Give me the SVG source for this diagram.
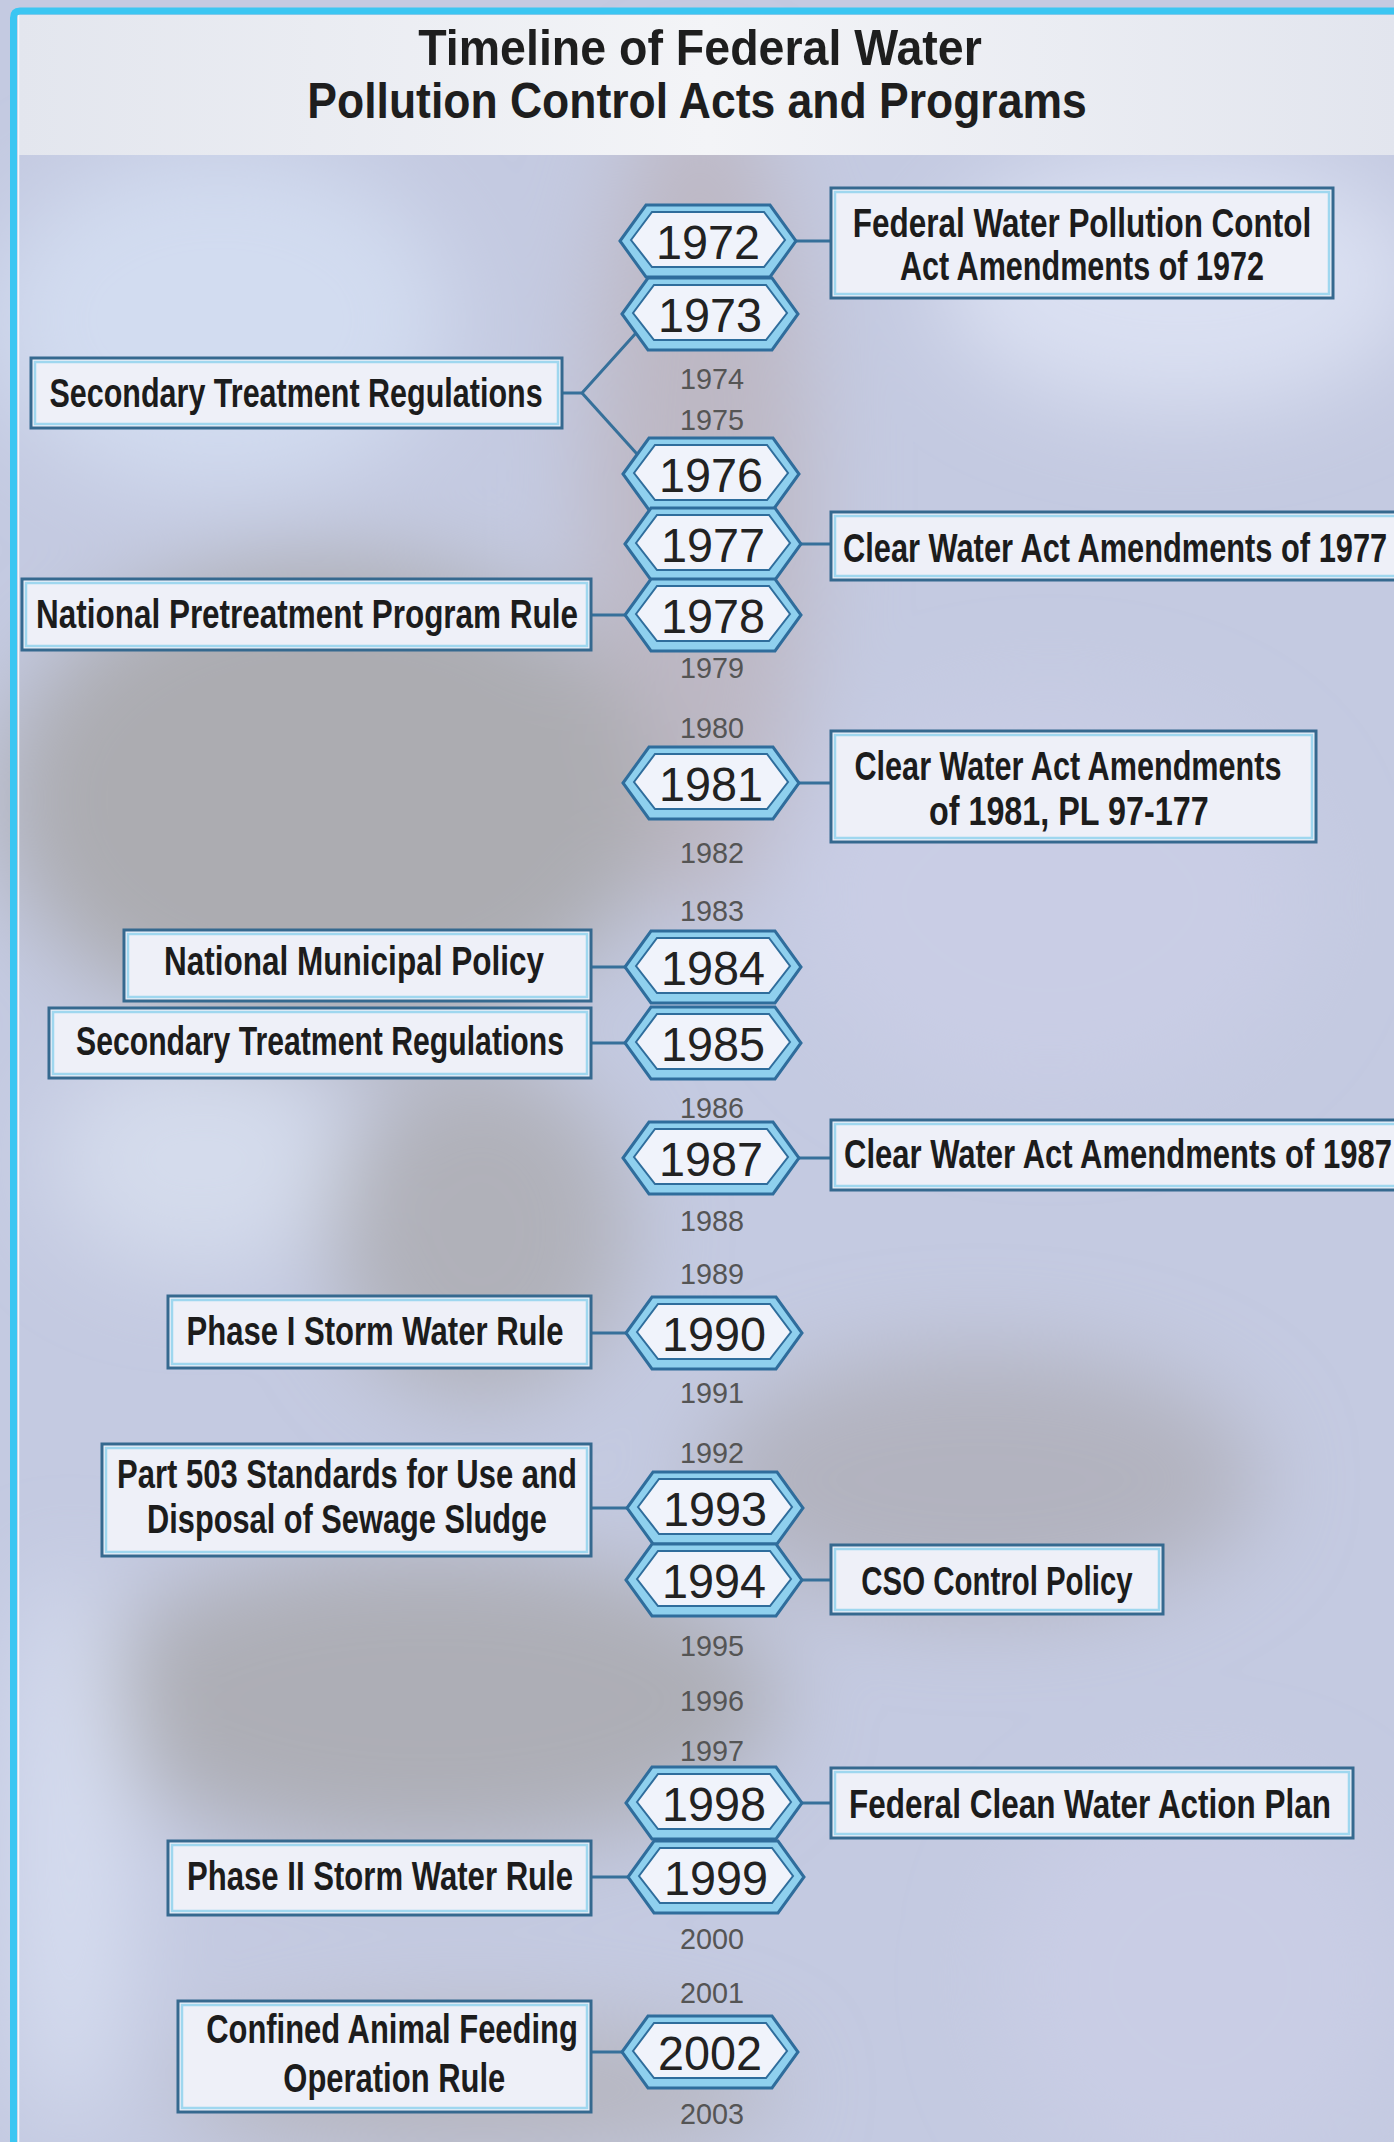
<svg xmlns="http://www.w3.org/2000/svg" width="1394" height="2142" viewBox="0 0 1394 2142">
<defs>
<style>
.boxo{fill:#eef0f8;stroke:#35698f;stroke-width:3}
.boxi{fill:none;stroke:#9fd7ef;stroke-width:2.5}
.lbl{font-family:"Liberation Sans",Arial,sans-serif;font-weight:bold;font-size:40px;fill:#1c1c1c;text-anchor:middle}
.lbls{font-family:"Liberation Sans",Arial,sans-serif;font-weight:bold;font-size:40px;fill:#1c1c1c;text-anchor:start}
.yr{font-family:"Liberation Sans",Arial,sans-serif;font-size:48px;fill:#222;text-anchor:middle}
.sy{font-family:"Liberation Sans",Arial,sans-serif;font-size:30px;fill:#555;text-anchor:middle}
.ttl{font-family:"Liberation Sans",Arial,sans-serif;font-weight:bold;font-size:50px;fill:#1e1e1e;text-anchor:middle}
.conn{stroke:#36709a;stroke-width:3;fill:none}
</style>
<filter id="blur" x="-50%" y="-50%" width="200%" height="200%"><feGaussianBlur stdDeviation="45"/></filter>
<linearGradient id="tband" x1="0" y1="0" x2="1" y2="0">
<stop offset="0" stop-color="#e3e6ee"/><stop offset="0.5" stop-color="#f3f4f7"/><stop offset="1" stop-color="#e2e5ee"/>
</linearGradient>
<g id="hex">
<polygon points="-88,0 -62,-36 62,-36 88,0 62,36 -62,36" fill="#8fd0ee" stroke="#2f6d9c" stroke-width="3"/>
<polygon points="-77,-1 -56,-29 56,-29 77,-1 56,26 -56,26" fill="#f0f3fb" stroke="#2f6d9c" stroke-width="2"/>
</g>
</defs>

<g id="background">
<rect x="0" y="0" width="1394" height="2142" fill="#c4cae1"/>
<g filter="url(#blur)">
<ellipse cx="220" cy="320" rx="230" ry="170" fill="#d2dcf0"/>
<ellipse cx="700" cy="500" rx="110" ry="420" fill="#bdb8c4"/>
<ellipse cx="330" cy="800" rx="330" ry="240" fill="#acacb1"/>
<ellipse cx="1180" cy="280" rx="240" ry="130" fill="#dae0f2"/>
<ellipse cx="1050" cy="900" rx="260" ry="200" fill="#c9cde5"/>
<ellipse cx="200" cy="1160" rx="150" ry="110" fill="#d4dbec"/>
<ellipse cx="480" cy="1230" rx="150" ry="170" fill="#b0b1b9"/>
<ellipse cx="980" cy="1480" rx="280" ry="130" fill="#b2b3bf"/>
<ellipse cx="430" cy="1700" rx="350" ry="150" fill="#adaeb6"/>
<ellipse cx="70" cy="1850" rx="60" ry="280" fill="#d6ddf0"/>
<ellipse cx="1200" cy="1980" rx="200" ry="200" fill="#c9cde5"/>
<ellipse cx="480" cy="2090" rx="300" ry="70" fill="#b6b6c0"/>
</g>
</g>

<g id="frame">
<rect x="18" y="15" width="1380" height="140" fill="url(#tband)"/>
<path d="M13.5,2142 V18 Q13.5,11 20,11 H1394" fill="none" stroke="#3bc6f2" stroke-width="7"/>
<line x1="18.5" y1="15" x2="18.5" y2="2142" stroke="#f4f8fc" stroke-width="1.5"/>
</g>

<g id="title">
<g transform="translate(700 0) scale(0.93 1)"><text class="ttl" x="0" y="65" textLength="606" lengthAdjust="spacingAndGlyphs">Timeline of Federal Water</text></g>
<g transform="translate(697 0) scale(0.93 1)"><text class="ttl" x="0" y="118" textLength="838" lengthAdjust="spacingAndGlyphs">Pollution Control Acts and Programs</text></g>
</g>

<g id="connectors">
<line class="conn" x1="796" y1="241" x2="831" y2="241"/>
<polyline class="conn" points="562,393 582,393 636,333"/>
<line class="conn" x1="582" y1="393" x2="637" y2="454"/>
<line class="conn" x1="800" y1="544" x2="831" y2="544"/>
<line class="conn" x1="591" y1="615" x2="626" y2="615"/>
<line class="conn" x1="798" y1="783" x2="831" y2="783"/>
<line class="conn" x1="591" y1="967" x2="626" y2="967"/>
<line class="conn" x1="591" y1="1043" x2="626" y2="1043"/>
<line class="conn" x1="798" y1="1158" x2="831" y2="1158"/>
<line class="conn" x1="591" y1="1333" x2="627" y2="1333"/>
<line class="conn" x1="591" y1="1508" x2="628" y2="1508"/>
<line class="conn" x1="801" y1="1580" x2="831" y2="1580"/>
<line class="conn" x1="801" y1="1803" x2="831" y2="1803"/>
<line class="conn" x1="591" y1="1877" x2="629" y2="1877"/>
<line class="conn" x1="591" y1="2052" x2="623" y2="2052"/>
</g>

<g id="minor-years">
<text class="sy" x="712" y="389" textLength="64" lengthAdjust="spacingAndGlyphs">1974</text>
<text class="sy" x="712" y="430" textLength="64" lengthAdjust="spacingAndGlyphs">1975</text>
<text class="sy" x="712" y="678" textLength="64" lengthAdjust="spacingAndGlyphs">1979</text>
<text class="sy" x="712" y="738" textLength="64" lengthAdjust="spacingAndGlyphs">1980</text>
<text class="sy" x="712" y="863" textLength="64" lengthAdjust="spacingAndGlyphs">1982</text>
<text class="sy" x="712" y="921" textLength="64" lengthAdjust="spacingAndGlyphs">1983</text>
<text class="sy" x="712" y="1118" textLength="64" lengthAdjust="spacingAndGlyphs">1986</text>
<text class="sy" x="712" y="1231" textLength="64" lengthAdjust="spacingAndGlyphs">1988</text>
<text class="sy" x="712" y="1284" textLength="64" lengthAdjust="spacingAndGlyphs">1989</text>
<text class="sy" x="712" y="1403" textLength="64" lengthAdjust="spacingAndGlyphs">1991</text>
<text class="sy" x="712" y="1463" textLength="64" lengthAdjust="spacingAndGlyphs">1992</text>
<text class="sy" x="712" y="1656" textLength="64" lengthAdjust="spacingAndGlyphs">1995</text>
<text class="sy" x="712" y="1711" textLength="64" lengthAdjust="spacingAndGlyphs">1996</text>
<text class="sy" x="712" y="1761" textLength="64" lengthAdjust="spacingAndGlyphs">1997</text>
<text class="sy" x="712" y="1949" textLength="64" lengthAdjust="spacingAndGlyphs">2000</text>
<text class="sy" x="712" y="2003" textLength="64" lengthAdjust="spacingAndGlyphs">2001</text>
<text class="sy" x="712" y="2124" textLength="64" lengthAdjust="spacingAndGlyphs">2003</text>
</g>

<g id="y1972"><use href="#hex" x="708" y="241"/><text class="yr" x="708" y="259" textLength="104" lengthAdjust="spacingAndGlyphs">1972</text></g>
<g id="y1973"><use href="#hex" x="710" y="314"/><text class="yr" x="710" y="332" textLength="104" lengthAdjust="spacingAndGlyphs">1973</text></g>
<g id="y1976"><use href="#hex" x="711" y="474"/><text class="yr" x="711" y="492" textLength="104" lengthAdjust="spacingAndGlyphs">1976</text></g>
<g id="y1977"><use href="#hex" x="713" y="544"/><text class="yr" x="713" y="562" textLength="104" lengthAdjust="spacingAndGlyphs">1977</text></g>
<g id="y1978"><use href="#hex" x="713" y="615"/><text class="yr" x="713" y="633" textLength="104" lengthAdjust="spacingAndGlyphs">1978</text></g>
<g id="y1981"><use href="#hex" x="711" y="783"/><text class="yr" x="711" y="801" textLength="104" lengthAdjust="spacingAndGlyphs">1981</text></g>
<g id="y1984"><use href="#hex" x="713" y="967"/><text class="yr" x="713" y="985" textLength="104" lengthAdjust="spacingAndGlyphs">1984</text></g>
<g id="y1985"><use href="#hex" x="713" y="1043"/><text class="yr" x="713" y="1061" textLength="104" lengthAdjust="spacingAndGlyphs">1985</text></g>
<g id="y1987"><use href="#hex" x="711" y="1158"/><text class="yr" x="711" y="1176" textLength="104" lengthAdjust="spacingAndGlyphs">1987</text></g>
<g id="y1990"><use href="#hex" x="714" y="1333"/><text class="yr" x="714" y="1351" textLength="104" lengthAdjust="spacingAndGlyphs">1990</text></g>
<g id="y1993"><use href="#hex" x="715" y="1508"/><text class="yr" x="715" y="1526" textLength="104" lengthAdjust="spacingAndGlyphs">1993</text></g>
<g id="y1994"><use href="#hex" x="714" y="1580"/><text class="yr" x="714" y="1598" textLength="104" lengthAdjust="spacingAndGlyphs">1994</text></g>
<g id="y1998"><use href="#hex" x="714" y="1803"/><text class="yr" x="714" y="1821" textLength="104" lengthAdjust="spacingAndGlyphs">1998</text></g>
<g id="y1999"><use href="#hex" x="716" y="1877"/><text class="yr" x="716" y="1895" textLength="104" lengthAdjust="spacingAndGlyphs">1999</text></g>
<g id="y2002"><use href="#hex" x="710" y="2052"/><text class="yr" x="710" y="2070" textLength="104" lengthAdjust="spacingAndGlyphs">2002</text></g>

<g id="box-fwpca1972">
<rect class="boxo" x="831" y="188" width="502" height="110"/><rect class="boxi" x="835" y="192" width="494" height="102"/>
<g transform="translate(1082 0) scale(0.76 1)">
<text class="lbl" x="0" y="237" textLength="603" lengthAdjust="spacingAndGlyphs">Federal Water Pollution Contol</text>
<text class="lbl" x="0" y="280" textLength="479" lengthAdjust="spacingAndGlyphs">Act Amendments of 1972</text>
</g>
</g>
<g id="box-str1973">
<rect class="boxo" x="31" y="358" width="531" height="70"/><rect class="boxi" x="35" y="362" width="523" height="62"/>
<g transform="translate(296 0) scale(0.76 1)"><text class="lbl" x="0" y="407" textLength="649" lengthAdjust="spacingAndGlyphs">Secondary Treatment Regulations</text></g>
</g>
<g id="box-cwa1977">
<rect class="boxo" x="831" y="512" width="600" height="68"/><rect class="boxi" x="835" y="516" width="592" height="60"/>
<g transform="translate(843 0) scale(0.76 1)"><text class="lbls" x="0" y="562" textLength="716" lengthAdjust="spacingAndGlyphs">Clear Water Act Amendments of 1977</text></g>
</g>
<g id="box-nppr1978">
<rect class="boxo" x="22" y="579" width="569" height="71"/><rect class="boxi" x="26" y="583" width="561" height="63"/>
<g transform="translate(307 0) scale(0.76 1)"><text class="lbl" x="0" y="628" textLength="713" lengthAdjust="spacingAndGlyphs">National Pretreatment Program Rule</text></g>
</g>
<g id="box-cwa1981">
<rect class="boxo" x="831" y="731" width="485" height="111"/><rect class="boxi" x="835" y="735" width="477" height="103"/>
<g transform="translate(1068 0) scale(0.76 1)">
<text class="lbl" x="0" y="780" textLength="562" lengthAdjust="spacingAndGlyphs">Clear Water Act Amendments</text>
<text class="lbl" x="1" y="825" textLength="368" lengthAdjust="spacingAndGlyphs">of 1981, PL 97-177</text>
</g>
</g>
<g id="box-nmp1984">
<rect class="boxo" x="124" y="930" width="467" height="71"/><rect class="boxi" x="128" y="934" width="459" height="63"/>
<g transform="translate(354 0) scale(0.76 1)"><text class="lbl" x="0" y="975" textLength="500" lengthAdjust="spacingAndGlyphs">National Municipal Policy</text></g>
</g>
<g id="box-str1985">
<rect class="boxo" x="49" y="1008" width="542" height="70"/><rect class="boxi" x="53" y="1012" width="534" height="62"/>
<g transform="translate(320 0) scale(0.76 1)"><text class="lbl" x="0" y="1055" textLength="642" lengthAdjust="spacingAndGlyphs">Secondary Treatment Regulations</text></g>
</g>
<g id="box-cwa1987">
<rect class="boxo" x="831" y="1120" width="600" height="70"/><rect class="boxi" x="835" y="1124" width="592" height="62"/>
<g transform="translate(844 0) scale(0.76 1)"><text class="lbls" x="0" y="1168" textLength="721" lengthAdjust="spacingAndGlyphs">Clear Water Act Amendments of 1987</text></g>
</g>
<g id="box-ph1-1990">
<rect class="boxo" x="168" y="1296" width="423" height="72"/><rect class="boxi" x="172" y="1300" width="415" height="64"/>
<g transform="translate(375 0) scale(0.76 1)"><text class="lbl" x="0" y="1345" textLength="496" lengthAdjust="spacingAndGlyphs">Phase I Storm Water Rule</text></g>
</g>
<g id="box-part503-1993">
<rect class="boxo" x="102" y="1444" width="489" height="112"/><rect class="boxi" x="106" y="1448" width="481" height="104"/>
<g transform="translate(347 0) scale(0.76 1)">
<text class="lbl" x="0" y="1488" textLength="605" lengthAdjust="spacingAndGlyphs">Part 503 Standards for Use and</text>
<text class="lbl" x="0" y="1533" textLength="526" lengthAdjust="spacingAndGlyphs">Disposal of Sewage Sludge</text>
</g>
</g>
<g id="box-cso1994">
<rect class="boxo" x="831" y="1545" width="332" height="69"/><rect class="boxi" x="835" y="1549" width="324" height="61"/>
<g transform="translate(997 0) scale(0.76 1)"><text class="lbl" x="0" y="1595" textLength="357" lengthAdjust="spacingAndGlyphs">CSO Control Policy</text></g>
</g>
<g id="box-fcwap1998">
<rect class="boxo" x="831" y="1768" width="522" height="70"/><rect class="boxi" x="835" y="1772" width="514" height="62"/>
<g transform="translate(1090 0) scale(0.76 1)"><text class="lbl" x="0" y="1818" textLength="634" lengthAdjust="spacingAndGlyphs">Federal Clean Water Action Plan</text></g>
</g>
<g id="box-ph2-1999">
<rect class="boxo" x="168" y="1841" width="423" height="74"/><rect class="boxi" x="172" y="1845" width="415" height="66"/>
<g transform="translate(380 0) scale(0.76 1)"><text class="lbl" x="0" y="1890" textLength="508" lengthAdjust="spacingAndGlyphs">Phase II Storm Water Rule</text></g>
</g>
<g id="box-cafo2002">
<rect class="boxo" x="178" y="2001" width="413" height="111"/><rect class="boxi" x="182" y="2005" width="405" height="103"/>
<g transform="translate(392 0) scale(0.76 1)">
<text class="lbl" x="0" y="2043" textLength="489" lengthAdjust="spacingAndGlyphs">Confined Animal Feeding</text>
<text class="lbl" x="3" y="2092" textLength="292" lengthAdjust="spacingAndGlyphs">Operation Rule</text>
</g>
</g>
</svg>
